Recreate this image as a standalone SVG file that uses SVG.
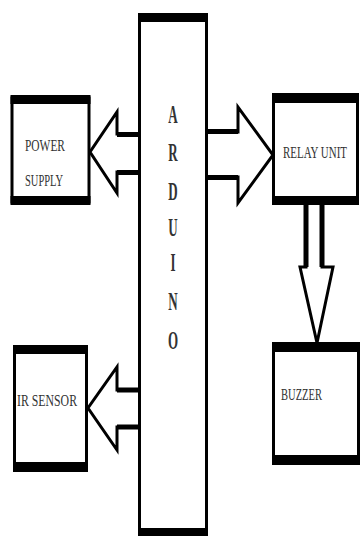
<svg xmlns="http://www.w3.org/2000/svg" width="361" height="536" viewBox="0 0 361 536">
<style>
.box{fill:#fff;stroke:#000;stroke-width:3}
.bar{fill:#000}
.arr{fill:#fff;stroke:#000;stroke-width:3;stroke-linejoin:miter}
.shaft{stroke:#000;stroke-width:5;fill:none}
.lbl{font-family:"Liberation Serif","Times New Roman",serif;font-size:11px;fill:#333}
.ard{font-family:"Liberation Serif","Times New Roman",serif;font-size:13px;font-weight:bold;fill:#333;text-anchor:middle}
</style>
<rect width="361" height="536" fill="#fff"/>
<g id="connectors">
<path class="arr" d="M140,134 H117 V112 L90,152 L117,193 V172 H140"/>
<path class="shaft" d="M117,134.5 H140 M117,172.5 H140"/>
<path class="arr" d="M206,132 H238 V107 L273,155 L238,203 V177 H206"/>
<path class="shaft" d="M206,131.5 H238 M206,177.5 H238"/>
<path class="arr" d="M140,390 H117 V367 L88,408 L117,450 V427 H140"/>
<path class="shaft" d="M117,390 H140 M117,427 H140"/>
<path class="arr" d="M306,205 V267 H300 L317,343 L333,267 H322 V205"/>
<path class="shaft" d="M306,205 V267 M322,205 V267"/>
</g>
<g id="arduino">
<rect class="box" x="139.5" y="16" width="67" height="520"/>
<rect class="bar" x="138" y="13" width="70" height="9"/>
<rect class="bar" x="138" y="528" width="70" height="9"/>
<g transform="translate(173,0) scale(1,2)">
<text class="ard" x="0" y="61.75">A</text>
<text class="ard" x="0" y="80.75">R</text>
<text class="ard" x="0" y="100.25">D</text>
<text class="ard" x="0" y="118.25">U</text>
<text class="ard" x="0" y="135.75">I</text>
<text class="ard" x="0" y="155.25">N</text>
<text class="ard" x="0" y="174.75">O</text>
</g>
</g>
<g id="power-supply">
<rect class="box" x="12" y="98" width="77" height="104"/>
<rect class="bar" x="10.5" y="95" width="80" height="9"/>
<rect class="bar" x="10.5" y="196" width="80" height="9"/>
<text class="lbl" transform="translate(25,150.5) scale(1,1.5)" textLength="40" lengthAdjust="spacingAndGlyphs">POWER</text>
<text class="lbl" transform="translate(25,185.5) scale(1,1.5)" textLength="38" lengthAdjust="spacingAndGlyphs">SUPPLY</text>
</g>
<g id="relay-unit">
<rect class="box" x="273.5" y="96" width="84" height="104"/>
<rect class="bar" x="272" y="93" width="87" height="10"/>
<rect class="bar" x="272" y="196" width="87" height="9"/>
<text class="lbl" transform="translate(283,157.5) scale(1,1.5)" textLength="64" lengthAdjust="spacingAndGlyphs">RELAY UNIT</text>
</g>
<g id="buzzer">
<rect class="box" x="273.5" y="345" width="85" height="115"/>
<rect class="bar" x="272" y="342" width="88" height="10"/>
<rect class="bar" x="272" y="455" width="88" height="10"/>
<text class="lbl" transform="translate(281,399.5) scale(1,1.5)" textLength="41" lengthAdjust="spacingAndGlyphs">BUZZER</text>
</g>
<g id="ir-sensor">
<rect class="box" x="14.5" y="348" width="72" height="118"/>
<rect class="bar" x="13" y="345" width="75" height="9"/>
<rect class="bar" x="13" y="462" width="75" height="10"/>
<text class="lbl" transform="translate(17,405.5) scale(1,1.5)" textLength="60" lengthAdjust="spacingAndGlyphs">IR SENSOR</text>
</g>
</svg>
